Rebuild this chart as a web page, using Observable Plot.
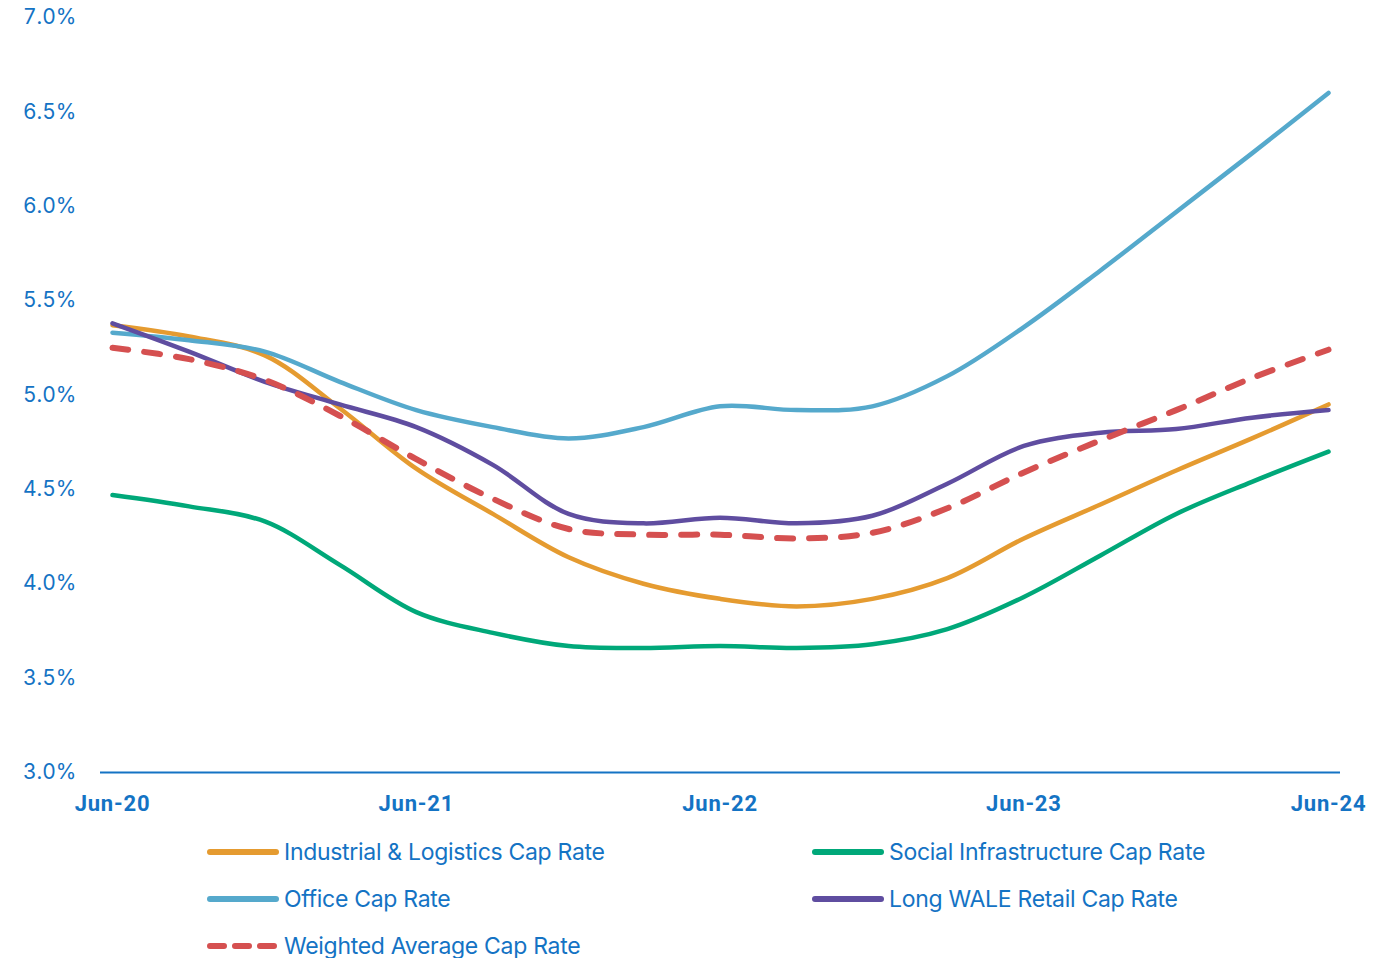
<!DOCTYPE html>
<html>
<head>
<meta charset="utf-8">
<script src="https://cdn.jsdelivr.net/npm/d3@7"></script>
<script src="https://cdn.jsdelivr.net/npm/@observablehq/plot@0.6"></script>
<style>
  html, body { margin: 0; padding: 0; background: #fff; }
  body { width: 1388px; height: 958px; overflow: hidden; font-family: Inter, Roboto, sans-serif; }
  #chart svg { display: block; }
  #chart svg .xt text { font-family: Roboto, sans-serif; letter-spacing: 0.8px; }
  .legend { position: absolute; left: 0; top: 0; width: 1388px; }
  .item { position: absolute; display: flex; align-items: center; color: #1473C4; font-size: 23px; font-family: Inter, Roboto, sans-serif; white-space: nowrap; letter-spacing: -0.3px; }
  .item svg { margin-right: 5px; }
</style>
</head>
<body>
<div id="chart"></div>
<div class="legend" id="legend"></div>
<script>
const quarters = ["Jun-20","Sep-20","Dec-20","Mar-21","Jun-21","Sep-21","Dec-21","Mar-22","Jun-22","Sep-22","Dec-22","Mar-23","Jun-23","Sep-23","Dec-23","Mar-24","Jun-24"];
const xTickLabels = ["Jun-20","Jun-21","Jun-22","Jun-23","Jun-24"];
const yTicks = [3.0, 3.5, 4.0, 4.5, 5.0, 5.5, 6.0, 6.5, 7.0];

const seriesNames = ["Industrial & Logistics Cap Rate","Social Infrastructure Cap Rate","Office Cap Rate","Long WALE Retail Cap Rate","Weighted Average Cap Rate"];
const seriesColors = ["#E59B30","#00A879","#55A9CC","#5F4DA0","#D55050"];

const industrial = [5.37,5.31,5.21,4.93,4.61,4.37,4.14,4.00,3.92,3.88,3.92,4.03,4.24,4.42,4.60,4.77,4.95];
const social     = [4.47,4.41,4.33,4.10,3.85,3.74,3.67,3.66,3.67,3.66,3.68,3.76,3.93,4.15,4.37,4.54,4.70];
const office     = [5.33,5.29,5.23,5.07,4.92,4.83,4.77,4.83,4.94,4.92,4.94,5.10,5.36,5.66,5.97,6.28,6.60];
const retail     = [5.38,5.23,5.07,4.95,4.83,4.63,4.37,4.32,4.35,4.32,4.36,4.53,4.73,4.80,4.82,4.88,4.92];
const weighted   = [5.25,5.19,5.08,4.89,4.66,4.45,4.29,4.26,4.26,4.24,4.27,4.40,4.59,4.76,4.92,5.09,5.24];

const parse = d3.utcParse("%b-%y");
const fmt = d3.utcFormat("%b-%y");
const allValues = [industrial, social, office, retail, weighted];
const rows = [];
allValues.forEach((vals, si) => vals.forEach((v, i) => rows.push({series: seriesNames[si], date: parse(quarters[i]), value: v})));
const solid = rows.filter(d => d.series !== seriesNames[4]);
const dashed = rows.filter(d => d.series === seriesNames[4]);

const d0 = parse(quarters[0]), d1 = parse(quarters[quarters.length - 1]);
const pad = 14.4 * 864e5;
const blue = "#1473C4";

const chart = Plot.plot({
  width: 1388,
  height: 832,
  marginLeft: 100,
  marginRight: 48,
  marginTop: 17,
  marginBottom: 60,
  style: {fontFamily: "Inter, Roboto, sans-serif", background: "#fff", overflow: "visible"},
  x: {type: "utc", domain: [new Date(+d0 - pad), new Date(+d1 + pad)], label: null},
  y: {domain: [3, 7], label: null},
  color: {domain: seriesNames, range: seriesColors},
  marks: [
    Plot.axisY({ticks: yTicks, tickFormat: d => d.toFixed(1) + "%", tickSize: 0, tickPadding: 24, fill: blue, fontSize: 21, label: null}),
    Plot.axisX({ticks: xTickLabels.map(parse), tickFormat: fmt, tickSize: 0, tickPadding: 23, fill: blue, fontSize: 22, fontWeight: "bold", label: null, className: "xt"}),
    Plot.ruleY([3], {stroke: blue, strokeWidth: 2}),
    Plot.line(solid, {x: "date", y: "value", z: "series", stroke: "series", strokeWidth: 4.5, curve: "catmull-rom", strokeLinecap: "round"}),
    Plot.line(dashed, {x: "date", y: "value", stroke: "series", strokeWidth: 6, curve: "catmull-rom", strokeDasharray: "16 16", strokeLinecap: "round"})
  ]
});
document.getElementById("chart").appendChild(chart);

// legend
const legend = document.getElementById("legend");
const positions = [[207, 852], [812, 852], [207, 899], [812, 899], [207, 946]];
[0, 1, 2, 3, 4].forEach((si, k) => {
  const [lx, ly] = positions[k];
  const item = document.createElement("div");
  item.className = "item";
  item.style.left = lx + "px";
  item.style.top = (ly - 14) + "px";
  item.style.height = "28px";
  const dash = si === 4 ? 'stroke-dasharray="14 11"' : "";
  item.innerHTML = `<svg width="72" height="10"><line x1="3" y1="5" x2="69" y2="5" stroke="${seriesColors[si]}" stroke-width="6" stroke-linecap="round" ${dash}/></svg><span>${seriesNames[si]}</span>`;
  legend.appendChild(item);
});
</script>
</body>
</html>
